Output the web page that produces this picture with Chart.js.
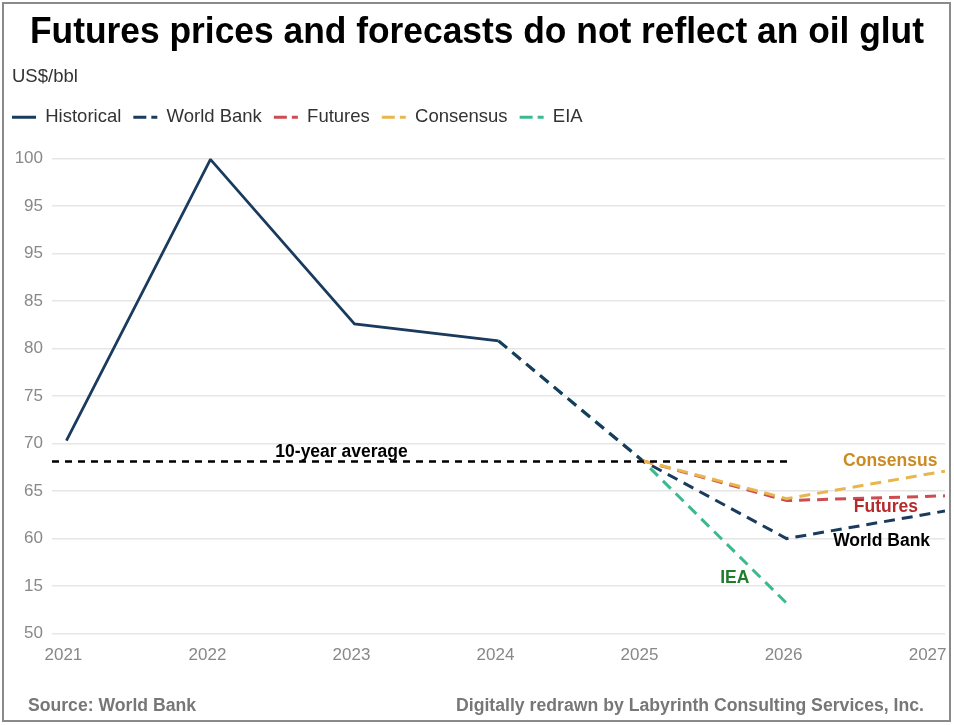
<!DOCTYPE html>
<html>
<head>
<meta charset="utf-8">
<title>Futures prices and forecasts</title>
<script src="https://cdn.jsdelivr.net/npm/chart.js@4.4.1/dist/chart.umd.min.js"></script>
<style>
  html, body { margin: 0; padding: 0; background: #fff; }
  #wrap { width: 954px; height: 725px; position: relative; }
</style>
</head>
<body>
<div id="wrap"><canvas id="oilChart"></canvas></div>
<script>
// x axis ticks and the right edge of the plot
const years = [2021, 2022, 2023, 2024, 2025, 2026, 2027];
const xStart = 2020.9;
const xEnd = 2027.1;

// y axis ticks (labels copied as printed on the original)
const yTickValues = [50, 55, 60, 65, 70, 75, 80, 85, 90, 95, 100];
const yTickLabels = ['50', '15', '60', '65', '70', '75', '80', '85', '95', '95', '100'];

// historical prices, US$/bbl
const histYears = [2021, 2022, 2023, 2024];
const histValues = [70.3, 99.9, 82.6, 80.8];

// forecasts
const wbYears = [2024, 2025, 2026, xEnd];
const wbValues = [80.8, 68.2, 60.0, 62.9];

const futYears = [2025, 2026, xEnd];
const futValues = [68.2, 64.0, 64.5];

const consYears = [2025, 2026, xEnd];
const consValues = [68.2, 64.2, 67.1];

const eiaYears = [2024, 2025, 2026];
const eiaValues = [80.8, 68.2, 53.2];

// 10-year average line
const avgYears = [xStart, 2026.03];
const avgValues = [68.1, 68.1];

// series labels written on the plot
const noteTexts = ['10-year average', 'Consensus', 'Futures', 'World Bank', 'IEA'];
const noteX = [2022.91, 2026.72, 2026.69, 2026.66, 2025.64];
const noteY = [69.1, 68.1, 63.3, 59.7, 55.8];
const noteColors = ['#000000', '#cc8a22', '#b52b2b', '#000000', '#1f7d2c'];

const NAVY = '#1a3b5d';
const RED = '#cd4c52';
const GOLD = '#e8b64c';
const GREEN = '#3dba8c';
const FONT = '"Liberation Sans", Arial, sans-serif';

function pts(xs, ys) {
    return xs.map((x, i) => ({ x: x, y: ys[i] }));
}

// extra room between the legend and the plot
const legendGap = {
    id: 'legendGap',
    beforeInit(chart) {
        const fit = chart.legend.fit;
        chart.legend.fit = function () {
            fit.bind(chart.legend)();
            this.height += 22;
        };
    }
};

// title, unit, footers, frame and the in-plot labels
const extras = {
    id: 'extras',
    afterDraw(chart) {
        const ctx = chart.ctx;
        const xs = chart.scales.x;
        const ys = chart.scales.y;

        function fitText(text, font, color, x, y, width, align, baseline) {
            ctx.save();
            ctx.font = font;
            ctx.fillStyle = color;
            ctx.textBaseline = baseline || 'middle';
            ctx.textAlign = 'left';
            const w = ctx.measureText(text).width;
            const left = align === 'right' ? x - width : x;
            ctx.translate(left, y);
            ctx.scale(width / w, 1);
            ctx.fillText(text, 0, 0);
            ctx.restore();
        }

        ctx.save();
        ctx.strokeStyle = '#8a8a8a';
        ctx.lineWidth = 2;
        ctx.strokeRect(3, 3, 947, 718);
        ctx.restore();

        fitText('Futures prices and forecasts do not reflect an oil glut',
            'bold 36px ' + FONT, '#000', 30, 43, 894, 'left', 'alphabetic');

        ctx.save();
        ctx.font = '18.5px ' + FONT;
        ctx.fillStyle = '#333';
        ctx.textBaseline = 'middle';
        ctx.fillText('US$/bbl', 12, 77);
        ctx.restore();

        fitText('Source: World Bank', 'bold 18px ' + FONT, '#777', 28, 706, 168, 'left');
        fitText('Digitally redrawn by Labyrinth Consulting Services, Inc.',
            'bold 18px ' + FONT, '#777', 924, 706, 468, 'right');

        ctx.save();
        ctx.font = 'bold 17.5px ' + FONT;
        ctx.textAlign = 'center';
        ctx.textBaseline = 'middle';
        noteTexts.forEach((t, i) => {
            ctx.fillStyle = noteColors[i];
            ctx.fillText(t, xs.getPixelForValue(noteX[i]), ys.getPixelForValue(noteY[i]));
        });
        ctx.restore();
    }
};

const ctx = document.getElementById('oilChart').getContext('2d');
const oilChart = new Chart(ctx, {
    type: 'line',
    data: {
        datasets: [
            {
                label: 'Historical',
                data: pts(histYears, histValues),
                borderColor: NAVY,
                backgroundColor: NAVY,
                borderWidth: 2.8,
                order: 5
            },
            {
                label: 'World Bank',
                data: pts(wbYears, wbValues),
                borderColor: NAVY,
                backgroundColor: NAVY,
                borderWidth: 3,
                borderDash: [11, 7],
                order: 3
            },
            {
                label: 'Futures',
                data: pts(futYears, futValues),
                borderColor: RED,
                backgroundColor: RED,
                borderWidth: 3,
                borderDash: [11, 7],
                order: 2
            },
            {
                label: 'Consensus',
                data: pts(consYears, consValues),
                borderColor: GOLD,
                backgroundColor: GOLD,
                borderWidth: 3,
                borderDash: [11, 7],
                order: 1
            },
            {
                label: 'EIA',
                data: pts(eiaYears, eiaValues),
                borderColor: GREEN,
                backgroundColor: GREEN,
                borderWidth: 3,
                borderDash: [11, 7],
                order: 4
            },
            {
                label: 'avg',
                data: pts(avgYears, avgValues),
                borderColor: '#000',
                borderWidth: 2.5,
                borderDash: [7, 6],
                order: 0
            }
        ]
    },
    options: {
        responsive: true,
        maintainAspectRatio: false,
        animation: false,
        layout: { padding: { top: 96, left: 0, right: 9, bottom: 55 } },
        elements: { point: { radius: 0 }, line: { tension: 0 } },
        plugins: {
            tooltip: { enabled: false },
            title: { display: false },
            legend: {
                position: 'top',
                align: 'start',
                labels: {
                    usePointStyle: true,
                    pointStyle: 'line',
                    pointStyleWidth: 24,
                    boxHeight: 18,
                    padding: 12,
                    color: '#333',
                    font: { family: FONT, size: 18.5 },
                    generateLabels: chart => Chart.defaults.plugins.legend.labels.generateLabels(chart)
                        .map(item => {
                            const ds = chart.data.datasets[item.datasetIndex];
                            item.lineDash = ds.borderDash ? [13, 5] : [];
                            item.lineWidth = 3;
                            return item;
                        }),
                    filter: item => item.text !== 'avg',
                    sort: (a, b) => a.datasetIndex - b.datasetIndex
                }
            }
        },
        scales: {
            x: {
                type: 'linear',
                min: xStart,
                max: xEnd,
                afterBuildTicks: s => { s.ticks = years.map(v => ({ value: v })); },
                afterFit: s => { s.paddingLeft = 0; s.paddingRight = 0; },
                grid: { display: false },
                border: { display: false },
                ticks: {
                    color: '#888',
                    padding: 4,
                    labelOffset: -3,
                    font: { family: FONT, size: 17 },
                    callback: v => String(v)
                }
            },
            y: {
                min: 50,
                max: 100,
                afterBuildTicks: s => { s.ticks = yTickValues.map(v => ({ value: v })); },
                afterFit: s => { s.width = 52; },
                grid: { color: '#e6e6e6', lineWidth: 1.5, drawTicks: false },
                border: { display: false },
                ticks: {
                    color: '#888',
                    padding: 9,
                    font: { family: FONT, size: 17 },
                    callback: v => yTickLabels[yTickValues.indexOf(v)]
                }
            }
        }
    },
    plugins: [legendGap, extras]
});
</script>
</body>
</html>
